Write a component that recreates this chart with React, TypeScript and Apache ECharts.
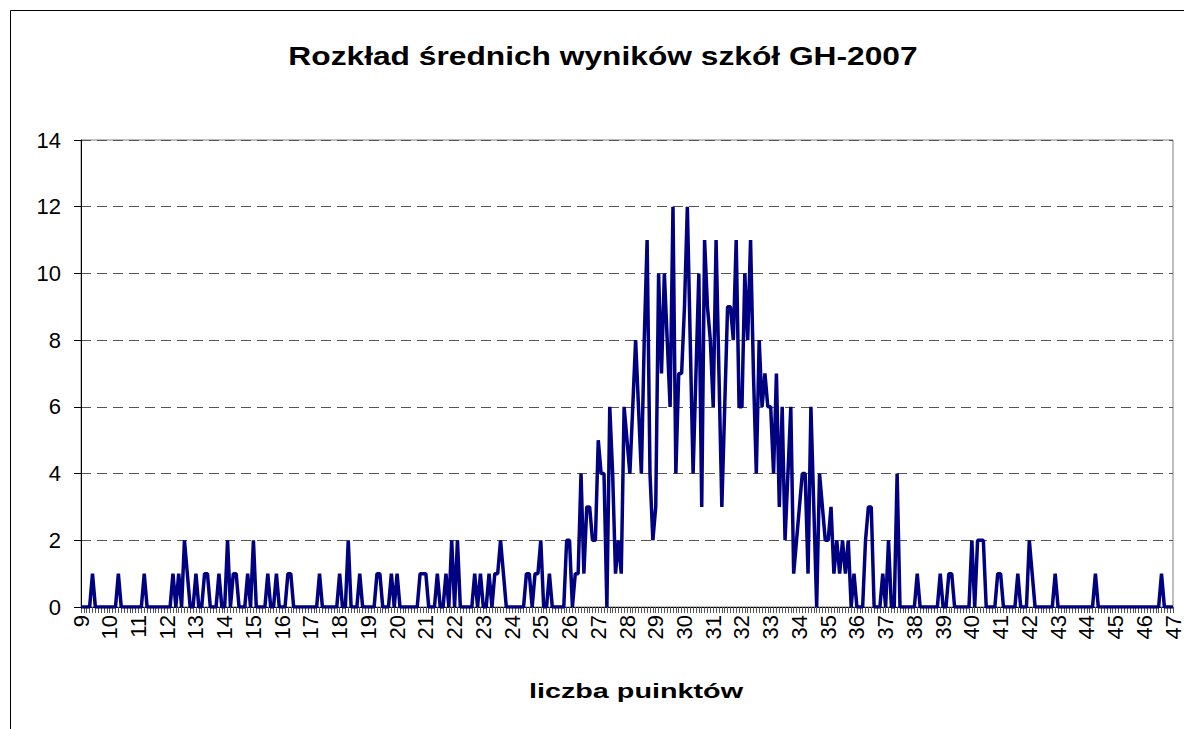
import React, { useEffect, useRef } from "react";
import * as echarts from "echarts";

// Distribution of schools' average scores, step 0,1 point, from 9,0 to 47,0
// Each row holds the counts for x,0 ... x,9 of one whole number of points.
const row09 = [0, 0, 0, 0, 1, 0, 0, 0, 0, 0];
const row10 = [0, 0, 0, 1, 0, 0, 0, 0, 0, 0];
const row11 = [0, 0, 1, 0, 0, 0, 0, 0, 0, 0];
const row12 = [0, 0, 1, 0, 1, 0, 2, 1, 0, 0];
const row13 = [1, 0, 0, 1, 1, 0, 0, 0, 1, 0];
const row14 = [0, 2, 0, 1, 1, 0, 0, 0, 1, 0];
const row15 = [2, 0, 0, 0, 0, 1, 0, 0, 1, 0];
const row16 = [0, 0, 1, 1, 0, 0, 0, 0, 0, 0];
const row17 = [0, 0, 0, 1, 0, 0, 0, 0, 0, 0];
const row18 = [1, 0, 0, 2, 0, 0, 0, 1, 0, 0];
const row19 = [0, 0, 0, 1, 1, 0, 0, 0, 1, 0];
const row20 = [1, 0, 0, 0, 0, 0, 0, 0, 1, 1];
const row21 = [1, 0, 0, 0, 1, 0, 0, 1, 0, 2];
const row22 = [0, 2, 0, 0, 0, 0, 0, 1, 0, 1];
const row23 = [0, 0, 1, 0, 1, 1, 2, 1, 0, 0];
const row24 = [0, 0, 0, 0, 0, 1, 1, 0, 1, 1];
const row25 = [2, 0, 0, 1, 0, 0, 0, 0, 0, 2];
const row26 = [2, 0, 1, 1, 4, 1, 3, 3, 2, 2];
const row27 = [5, 4, 4, 0, 6, 4, 1, 2, 1, 6];
const row28 = [5, 4, 6, 8, 6, 4, 8, 11, 4, 2];
const row29 = [3, 10, 7, 10, 8, 6, 12, 4, 7, 7];
const row30 = [9, 12, 8, 4, 7, 10, 3, 11, 9, 8];
const row31 = [6, 11, 7, 3, 6, 9, 9, 8, 11, 6];
const row32 = [6, 10, 8, 11, 7, 4, 8, 6, 7, 6];
const row33 = [6, 4, 7, 3, 6, 2, 4, 6, 1, 2];
const row34 = [3, 4, 4, 1, 6, 3, 0, 4, 3, 2];
const row35 = [2, 3, 1, 2, 1, 2, 1, 2, 0, 1];
const row36 = [0, 0, 0, 2, 3, 3, 0, 0, 0, 1];
const row37 = [0, 2, 0, 0, 4, 0, 0, 0, 0, 0];
const row38 = [0, 1, 0, 0, 0, 0, 0, 0, 0, 1];
const row39 = [0, 0, 1, 1, 0, 0, 0, 0, 0, 0];
const row40 = [2, 0, 2, 2, 2, 0, 0, 0, 0, 1];
const row41 = [1, 0, 0, 0, 0, 0, 1, 0, 0, 0];
const row42 = [2, 1, 0, 0, 0, 0, 0, 0, 0, 1];
const row43 = [0, 0, 0, 0, 0, 0, 0, 0, 0, 0];
const row44 = [0, 0, 0, 1, 0, 0, 0, 0, 0, 0];
const row45 = [0, 0, 0, 0, 0, 0, 0, 0, 0, 0];
const row46 = [0, 0, 0, 0, 0, 0, 1, 0, 0, 0];
const row47 = [0];

const rows = [
  row09, row10, row11, row12, row13, row14, row15, row16, row17, row18,
  row19, row20, row21, row22, row23, row24, row25, row26, row27, row28,
  row29, row30, row31, row32, row33, row34, row35, row36, row37, row38,
  row39, row40, row41, row42, row43, row44, row45, row46, row47,
];

const firstWhole = 9;
const yTicks = [0, 2, 4, 6, 8, 10, 12, 14];

const titleText = "Rozkład średnich wyników szkół GH-2007";
const xAxisTitle = "liczba puinktów";

// category labels: "9", "9,1", ... "47"
const categories: string[] = [];
rows.forEach((r, ri) => {
  r.forEach((_, d) => {
    categories.push(d === 0 ? String(firstWhole + ri) : `${firstWhole + ri},${d}`);
  });
});
const values: number[] = rows.flat();

export default function App() {
  const ref = useRef<HTMLDivElement>(null);
  useEffect(() => {
    if (!ref.current) return;
    const chart = echarts.init(ref.current, undefined, { renderer: "svg" });
    const font = "Liberation Sans, Arial, sans-serif";
    chart.setOption({
      animation: false,
      backgroundColor: "#ffffff",
      grid: {
        left: 81,
        right: 6,
        top: 140,
        bottom: 122,
        show: true,
        borderColor: "#808080",
        borderWidth: 1,
        containLabel: false,
      },
      xAxis: {
        type: "category",
        data: categories,
        boundaryGap: false,
        axisLine: { show: true, lineStyle: { color: "#000", width: 1 } },
        axisTick: {
          show: true,
          interval: 0,
          length: 6,
          lineStyle: { color: "#555", width: 1 },
        },
        axisLabel: {
          interval: 9,
          rotate: 90,
          margin: 8,
          fontSize: 22,
          fontFamily: font,
          color: "#000",
          formatter: (v: string) => (v.indexOf(",") >= 0 ? "" : v),
        },
        splitLine: { show: false },
      },
      yAxis: {
        type: "value",
        min: yTicks[0],
        max: yTicks[yTicks.length - 1],
        interval: 2,
        axisLine: { show: true, lineStyle: { color: "#000", width: 1 } },
        axisTick: { show: true, length: 7, lineStyle: { color: "#000" } },
        axisLabel: {
          margin: 20,
          fontSize: 22,
          fontFamily: font,
          color: "#000",
        },
        splitLine: {
          show: true,
          lineStyle: { color: "#555", width: 1, type: [10, 6] },
        },
      },
      series: [
        {
          type: "line",
          data: values,
          symbol: "none",
          lineStyle: { color: "#000080", width: 3.5 },
          itemStyle: { color: "#000080" },
        },
      ],
      graphic: [
        {
          type: "rect",
          shape: { x: 10.5, y: 10.5, width: 1300, height: 900 },
          style: { fill: "none", stroke: "#000", lineWidth: 1 },
          silent: true,
        },
        {
          type: "text",
          x: 603,
          y: 56,
          scaleX: 1.22,
          style: {
            text: titleText,
            font: `bold 26px ${font}`,
            fill: "#000",
            textAlign: "center",
            textVerticalAlign: "middle",
          },
        },
        {
          type: "text",
          x: 636,
          y: 690,
          scaleX: 1.37,
          style: {
            text: xAxisTitle,
            font: `bold 21px ${font}`,
            fill: "#000",
            textAlign: "center",
            textVerticalAlign: "middle",
          },
        },
      ],
    });
    return () => chart.dispose();
  }, []);
  return (
    <div
      ref={ref}
      style={{
        position: "fixed",
        left: 0,
        top: 0,
        width: 1184,
        height: 729,
        background: "#fff",
      }}
    />
  );
}
